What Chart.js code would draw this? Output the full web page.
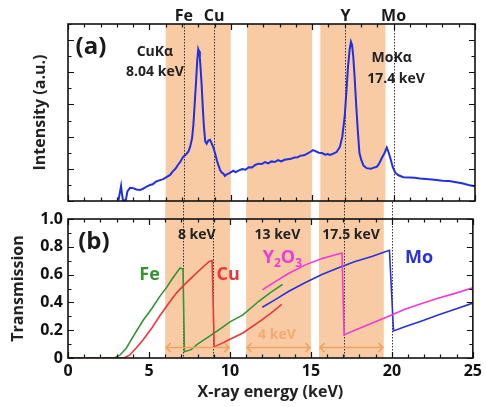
<!DOCTYPE html>
<html><head><meta charset="utf-8">
<script src="https://cdn.jsdelivr.net/npm/chart.js@4"></script>
<style>
html,body{margin:0;padding:0;background:#fff;width:486px;height:407px;overflow:hidden}
canvas{position:absolute;left:0}
#c1{top:0}
#c2{top:202px}
</style></head><body>
<canvas id="c1" width="486" height="202"></canvas>
<canvas id="c2" width="486" height="205"></canvas>
<script>
// ---------- data ----------
const spectrumEnergy = [3.1,3.2,3.26,3.32,3.38,3.55,3.65,3.81,4.0,4.2,4.42,4.6,4.8,5.04,5.2,5.4,5.65,5.85,6.05,6.27,6.45,6.6,6.75,6.9,7.08,7.2,7.39,7.5,7.62,7.7,7.78,7.86,7.93,8.0,8.05,8.1,8.16,8.21,8.28,8.35,8.43,8.52,8.62,8.72,8.82,8.93,9.05,9.15,9.25,9.34,9.45,9.55,9.64,9.75,9.9,10.15,10.3,10.5,10.7,10.9,11.1,11.3,11.5,11.7,11.9,12.1,12.3,12.5,12.7,12.9,13.1,13.3,13.5,13.7,13.9,14.1,14.3,14.5,14.7,14.9,15.05,15.2,15.4,15.6,15.8,15.95,16.1,16.3,16.5,16.7,16.85,17.0,17.1,17.2,17.3,17.38,17.45,17.52,17.6,17.7,17.8,17.9,18.0,18.15,18.35,18.6,18.8,18.96,19.1,19.27,19.45,19.58,19.7,19.82,19.95,20.1,20.3,20.6,21.0,21.3,21.6,22.0,22.5,23.0,23.4,23.67,24.2,24.6,25.0];
const spectrumIntensity = [0.02,0.3,0.47,0.2,0.02,0.02,0.3,0.41,0.40,0.36,0.34,0.38,0.44,0.50,0.52,0.60,0.65,0.68,0.74,0.81,0.93,1.0,1.12,1.22,1.38,1.42,1.53,1.68,1.95,2.35,3.0,3.66,4.3,4.72,4.65,4.45,4.0,3.6,2.9,2.3,1.85,1.78,1.88,1.9,1.8,1.66,1.45,1.25,1.1,0.96,0.88,0.85,0.78,0.83,0.86,0.94,0.9,0.95,0.99,0.97,1.05,1.04,1.12,1.16,1.15,1.21,1.17,1.23,1.21,1.27,1.23,1.28,1.3,1.31,1.35,1.36,1.41,1.42,1.47,1.53,1.58,1.55,1.5,1.49,1.44,1.46,1.43,1.47,1.52,1.68,2.0,2.65,3.4,4.17,4.7,4.95,4.85,4.5,3.9,3.0,2.2,1.5,1.3,1.1,1.02,1.0,1.04,1.06,1.15,1.33,1.5,1.66,1.5,1.3,1.05,0.88,0.8,0.74,0.73,0.72,0.7,0.68,0.66,0.63,0.62,0.6,0.55,0.5,0.46];

const feEnergy = [0,2.85,3.2,3.6,4.0,4.63,5.2,5.65,6.1,6.47,6.92,7.1,7.19,7.6,8.0,8.72,9.4,10.0,10.8,11.8,12.5,13.25];
const feTrans  = [0,0,0.02,0.07,0.15,0.27,0.36,0.44,0.51,0.575,0.648,0.64,0.045,0.06,0.1,0.155,0.21,0.26,0.31,0.41,0.47,0.53];

const cuEnergy = [0,3.45,3.8,4.2,4.63,5.2,5.65,6.2,6.68,7.2,7.7,8.2,8.72,8.9,9.03,9.5,10.0,10.8,11.8,12.5,13.2];
const cuTrans  = [0,0,0.02,0.07,0.13,0.22,0.30,0.39,0.465,0.53,0.585,0.64,0.695,0.7,0.08,0.105,0.135,0.18,0.26,0.32,0.385];

const y2o3Energy = [12.0,12.8,13.64,14.66,15.68,16.3,16.92,17.05,17.6,18.76,19.8,20.8,21.8,22.85,23.9,25.0];
const y2o3Trans  = [0.49,0.55,0.61,0.67,0.715,0.735,0.755,0.165,0.195,0.25,0.3,0.35,0.39,0.43,0.465,0.505];

const moEnergy = [12.0,12.8,13.64,14.6,15.68,16.71,17.73,18.76,19.5,19.85,20.1,20.8,21.8,22.85,23.9,25.0];
const moTrans  = [0.365,0.42,0.48,0.54,0.6,0.65,0.695,0.73,0.76,0.775,0.195,0.225,0.265,0.31,0.35,0.395];

const bandRanges = [[6,10],[11,15],[15.5,19.5]];
const edgeNames = ['Fe','Cu','Y','Mo'];
const edgeEnergies = [7.11,8.98,17.04,20.0];
const windowLabels = ['8 keV','13 keV','17.5 keV'];
const windowCenters = [7.95,12.93,17.48];

// ---------- styling ----------
const FONT = '"Open Sans", "Liberation Sans", sans-serif';
const BAND = '#f9cba5';
const ORANGE = '#f0a262';
const C_FE = '#349434', C_CU = '#e8363c', C_Y = '#f03ad8', C_MO = '#2b31d6', C_SPEC = '#1f2fe2';

function pts(xs, ys){ return xs.map((x,i)=>({x:x, y:ys[i]})); }

function text(ctx, s, x, y, size, color, weight){
  ctx.font = (weight||'bold') + ' ' + size + 'px ' + FONT;
  ctx.fillStyle = color; ctx.textAlign = 'center'; ctx.textBaseline = 'middle';
  ctx.fillText(s, x, y);
}

function drawTicks(chart, yStep, yMajorEvery){
  const {ctx, chartArea: ca, scales: {x, y}} = chart;
  ctx.save();
  ctx.strokeStyle = '#111'; ctx.lineWidth = 1.2;
  ctx.beginPath();
  for (let v = 0; v <= 25; v++){
    const px = Math.round(x.getPixelForValue(v)) + 0.5;
    const len = v % 5 === 0 ? 6 : 3.5;
    ctx.moveTo(px, ca.bottom); ctx.lineTo(px, ca.bottom - len);
    ctx.moveTo(px, ca.top); ctx.lineTo(px, ca.top + len);
  }
  const n = Math.round((y.max - y.min) / yStep);
  for (let i = 0; i <= n; i++){
    const v = y.min + i * yStep;
    const py = Math.round(y.getPixelForValue(v)) + 0.5;
    const len = i % yMajorEvery === 0 ? 6 : 3.5;
    ctx.moveTo(ca.left, py); ctx.lineTo(ca.left + len, py);
    ctx.moveTo(ca.right, py); ctx.lineTo(ca.right - len, py);
  }
  ctx.stroke();
  ctx.lineWidth = 1.6;
  ctx.strokeRect(ca.left, ca.top, ca.right - ca.left, ca.bottom - ca.top);
  ctx.restore();
}

const decor = {
  id: 'decor',
  beforeDatasetsDraw(chart, args, o){
    const {ctx, chartArea: ca, scales: {x}} = chart;
    const y0 = o.upper ? ca.top : 0;
    const y1 = o.upper ? chart.height : ca.bottom;
    ctx.save();
    ctx.fillStyle = BAND;
    bandRanges.forEach(([a,b]) => {
      const xa = x.getPixelForValue(a), xb = x.getPixelForValue(b);
      ctx.fillRect(xa, y0, xb - xa, y1 - y0);
    });
    ctx.strokeStyle = '#333'; ctx.lineWidth = 1; ctx.setLineDash([1.5, 1.5]);
    edgeEnergies.forEach(e => {
      const px = Math.round(x.getPixelForValue(e)) + 0.5;
      ctx.beginPath(); ctx.moveTo(px, y0); ctx.lineTo(px, y1); ctx.stroke();
    });
    ctx.restore();
  },
  afterDatasetsDraw(chart, args, o){
    if (o.after) o.after(chart);
  }
};

function upperAfter(chart){
  const {ctx, scales: {x, y}} = chart;
  drawTicks(chart, 0.5, 2);
  ctx.save();
  edgeNames.forEach((n, i) => text(ctx, n, x.getPixelForValue(edgeEnergies[i]), y.getPixelForValue(5.73), 16, '#1a1a1a'));
  text(ctx, '(a)', x.getPixelForValue(1.41), y.getPixelForValue(4.78), 24, '#1a1a1a');
  text(ctx, 'CuKα', x.getPixelForValue(5.34), y.getPixelForValue(4.63), 14, '#222');
  text(ctx, '8.04 keV', x.getPixelForValue(5.34), y.getPixelForValue(4.01), 14, '#222');
  text(ctx, 'MoKα', x.getPixelForValue(19.88), y.getPixelForValue(4.43), 14, '#222');
  text(ctx, '17.4 keV', x.getPixelForValue(20.15), y.getPixelForValue(3.78), 14, '#222');
  ctx.restore();
}

function drawY2O3(ctx, cx, cy, color){
  const parts = [['Y',18,0],['2',12,5],['O',18,0],['3',12,5]];
  let widths = parts.map(p => { ctx.font = 'bold ' + p[1] + 'px ' + FONT; return ctx.measureText(p[0]).width; });
  const total = widths.reduce((a,b)=>a+b,0);
  let xx = cx - total/2;
  ctx.fillStyle = color; ctx.textAlign = 'left'; ctx.textBaseline = 'middle';
  parts.forEach((p,i) => { ctx.font = 'bold ' + p[1] + 'px ' + FONT; ctx.fillText(p[0], xx, cy + p[2]); xx += widths[i]; });
}

function arrow(ctx, xa, xb, yy){
  const h = 4.5;
  ctx.beginPath();
  ctx.moveTo(xa, yy); ctx.lineTo(xb, yy);
  ctx.moveTo(xa + h, yy - h); ctx.lineTo(xa, yy); ctx.lineTo(xa + h, yy + h);
  ctx.moveTo(xb - h, yy - h); ctx.lineTo(xb, yy); ctx.lineTo(xb - h, yy + h);
  ctx.stroke();
}

function lowerAfter(chart){
  const {ctx, scales: {x, y}} = chart;
  drawTicks(chart, 0.1, 2);
  ctx.save();
  text(ctx, '(b)', x.getPixelForValue(1.6), y.getPixelForValue(0.83), 24, '#1a1a1a');
  windowLabels.forEach((s, i) => text(ctx, s, x.getPixelForValue(windowCenters[i]), y.getPixelForValue(0.885), 14, '#222'));
  text(ctx, 'Fe', x.getPixelForValue(5.04), y.getPixelForValue(0.6), 18, C_FE);
  text(ctx, 'Cu', x.getPixelForValue(9.89), y.getPixelForValue(0.6), 18, C_CU);
  text(ctx, 'Mo', x.getPixelForValue(21.68), y.getPixelForValue(0.717), 18, C_MO);
  drawY2O3(ctx, x.getPixelForValue(13.24), y.getPixelForValue(0.717), C_Y);
  text(ctx, '4 keV', x.getPixelForValue(12.9), y.getPixelForValue(0.165), 14, '#f2aa70');
  ctx.strokeStyle = ORANGE; ctx.lineWidth = 1.6;
  const ay = Math.round(y.getPixelForValue(0.081)) + 0.5;
  bandRanges.forEach(([a,b]) => arrow(ctx, x.getPixelForValue(a) + 1, x.getPixelForValue(b) - 1, ay));
  ctx.restore();
}

const titleFont = {family: FONT, size: 16, weight: 'bold'};
const tickFont = {family: FONT, size: 16, weight: 'bold'};

new Chart(document.getElementById('c1'), {
  type: 'line',
  data: { datasets: [{ data: pts(spectrumEnergy, spectrumIntensity), borderColor: C_SPEC, borderWidth: 2, pointRadius: 0, tension: 0 }] },
  options: {
    responsive: false, animation: false, devicePixelRatio: 1,
    layout: { padding: { top: 24, right: 11, bottom: 1, left: 0 } },
    plugins: { legend: {display: false}, tooltip: {enabled: false}, decor: { upper: true, after: upperAfter } },
    scales: {
      x: { type: 'linear', min: 0, max: 25, display: false },
      y: { type: 'linear', min: 0, max: 5.5,
           ticks: {display: false}, grid: {display: false, drawTicks: false}, border: {display: false},
           title: {display: true, text: 'Intensity (a.u.)', font: titleFont, color: '#222', padding: {top: 31, bottom: 0}},
           afterFit(s){ s.width = 68; } }
    }
  },
  plugins: [decor]
});

new Chart(document.getElementById('c2'), {
  type: 'line',
  data: { datasets: [
    { data: pts(cuEnergy, cuTrans), borderColor: C_CU, borderWidth: 1.6, pointRadius: 0, tension: 0 },
    { data: pts(feEnergy, feTrans), borderColor: C_FE, borderWidth: 1.6, pointRadius: 0, tension: 0 },
    { data: pts(y2o3Energy, y2o3Trans), borderColor: C_Y, borderWidth: 1.6, pointRadius: 0, tension: 0 },
    { data: pts(moEnergy, moTrans), borderColor: C_MO, borderWidth: 1.6, pointRadius: 0, tension: 0 }
  ] },
  options: {
    responsive: false, animation: false, devicePixelRatio: 1,
    layout: { padding: { top: 17, right: 11, bottom: 0, left: 0 } },
    plugins: { legend: {display: false}, tooltip: {enabled: false}, decor: { upper: false, after: lowerAfter } },
    scales: {
      x: { type: 'linear', min: 0, max: 25,
           ticks: {stepSize: 5, font: tickFont, color: '#111', padding: 4, maxRotation: 0, autoSkip: false},
           grid: {display: false, drawTicks: false}, border: {display: false},
           title: {display: true, text: 'X-ray energy (keV)', font: titleFont, color: '#222', padding: {top: 0, bottom: 5}},
           afterFit(s){ s.height = 49; } },
      y: { type: 'linear', min: 0, max: 1,
           ticks: {stepSize: 0.2, font: tickFont, color: '#111', padding: 5,
                   callback: v => Math.abs(v) < 1e-9 ? '0' : Number(v).toFixed(1)},
           grid: {display: false, drawTicks: false}, border: {display: false},
           title: {display: true, text: 'Transmission', font: titleFont, color: '#222', padding: {top: 9, bottom: 0}},
           afterFit(s){ s.width = 68; } }
    }
  },
  plugins: [decor]
});
</script>
</body></html>
